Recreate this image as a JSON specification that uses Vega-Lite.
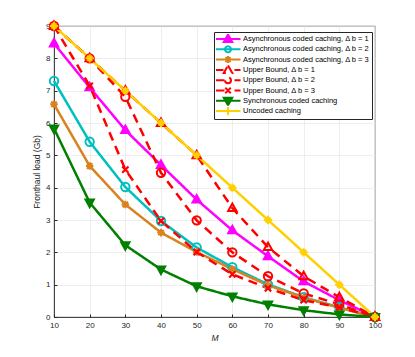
{
  "$schema": "https://vega.github.io/schema/vega-lite/v6.json",
  "width": 321,
  "height": 291,
  "autosize": {"type": "none"},
  "padding": {"left": 54, "top": 26, "right": 40, "bottom": 40},
  "background": "white",
  "config": {
    "font": "Liberation Sans",
    "view": {"stroke": "#262626", "strokeWidth": 0.8},
    "axis": {
      "labelFont": "Liberation Sans",
      "labelFontSize": 8,
      "labelColor": "#262626",
      "titleFont": "Liberation Sans",
      "titleFontSize": 8.5,
      "titleFontWeight": "normal",
      "titleColor": "#262626",
      "domainColor": "#262626",
      "domainWidth": 0.8,
      "tickColor": "#262626",
      "tickSize": -3,
      "gridColor": "#e6e6e6",
      "gridWidth": 0.7
    },
    "legend": {
      "orient": "none", "legendX": 160, "legendY": 6,
      "strokeColor": "#262626", "fillColor": "white", "padding": 2,
      "labelFont": "Liberation Sans", "labelFontSize": 7.5, "labelColor": "#000000",
      "symbolSize": 100, "symbolStrokeWidth": 2, "symbolOffset": 6, "labelOffset": 9,
      "rowPadding": 0.3, "clipHeight": 10, "labelLimit": 300, "symbolOpacity": 1
    }
  },
  "data": {
    "values": [
      {"M": 10, "load": 8.46, "series": "Asynchronous coded caching, Δ b = 1"},
      {"M": 20, "load": 7.1, "series": "Asynchronous coded caching, Δ b = 1"},
      {"M": 30, "load": 5.78, "series": "Asynchronous coded caching, Δ b = 1"},
      {"M": 40, "load": 4.7, "series": "Asynchronous coded caching, Δ b = 1"},
      {"M": 50, "load": 3.63, "series": "Asynchronous coded caching, Δ b = 1"},
      {"M": 60, "load": 2.68, "series": "Asynchronous coded caching, Δ b = 1"},
      {"M": 70, "load": 1.88, "series": "Asynchronous coded caching, Δ b = 1"},
      {"M": 80, "load": 1.1, "series": "Asynchronous coded caching, Δ b = 1"},
      {"M": 90, "load": 0.52, "series": "Asynchronous coded caching, Δ b = 1"},
      {"M": 100, "load": 0, "series": "Asynchronous coded caching, Δ b = 1"},
      {"M": 10, "load": 7.3, "series": "Asynchronous coded caching, Δ b = 2"},
      {"M": 20, "load": 5.42, "series": "Asynchronous coded caching, Δ b = 2"},
      {"M": 30, "load": 4.02, "series": "Asynchronous coded caching, Δ b = 2"},
      {"M": 40, "load": 2.97, "series": "Asynchronous coded caching, Δ b = 2"},
      {"M": 50, "load": 2.15, "series": "Asynchronous coded caching, Δ b = 2"},
      {"M": 60, "load": 1.54, "series": "Asynchronous coded caching, Δ b = 2"},
      {"M": 70, "load": 1.01, "series": "Asynchronous coded caching, Δ b = 2"},
      {"M": 80, "load": 0.61, "series": "Asynchronous coded caching, Δ b = 2"},
      {"M": 90, "load": 0.3, "series": "Asynchronous coded caching, Δ b = 2"},
      {"M": 100, "load": 0, "series": "Asynchronous coded caching, Δ b = 2"},
      {"M": 10, "load": 6.58, "series": "Asynchronous coded caching, Δ b = 3"},
      {"M": 20, "load": 4.67, "series": "Asynchronous coded caching, Δ b = 3"},
      {"M": 30, "load": 3.48, "series": "Asynchronous coded caching, Δ b = 3"},
      {"M": 40, "load": 2.61, "series": "Asynchronous coded caching, Δ b = 3"},
      {"M": 50, "load": 2.01, "series": "Asynchronous coded caching, Δ b = 3"},
      {"M": 60, "load": 1.48, "series": "Asynchronous coded caching, Δ b = 3"},
      {"M": 70, "load": 0.98, "series": "Asynchronous coded caching, Δ b = 3"},
      {"M": 80, "load": 0.6, "series": "Asynchronous coded caching, Δ b = 3"},
      {"M": 90, "load": 0.28, "series": "Asynchronous coded caching, Δ b = 3"},
      {"M": 100, "load": 0, "series": "Asynchronous coded caching, Δ b = 3"},
      {"M": 10, "load": 9, "series": "Upper Bound, Δ b = 1"},
      {"M": 20, "load": 8, "series": "Upper Bound, Δ b = 1"},
      {"M": 30, "load": 7, "series": "Upper Bound, Δ b = 1"},
      {"M": 40, "load": 6, "series": "Upper Bound, Δ b = 1"},
      {"M": 50, "load": 5, "series": "Upper Bound, Δ b = 1"},
      {"M": 60, "load": 3.37, "series": "Upper Bound, Δ b = 1"},
      {"M": 70, "load": 2.16, "series": "Upper Bound, Δ b = 1"},
      {"M": 80, "load": 1.26, "series": "Upper Bound, Δ b = 1"},
      {"M": 90, "load": 0.61, "series": "Upper Bound, Δ b = 1"},
      {"M": 100, "load": 0, "series": "Upper Bound, Δ b = 1"},
      {"M": 10, "load": 9, "series": "Upper Bound, Δ b = 2"},
      {"M": 20, "load": 8, "series": "Upper Bound, Δ b = 2"},
      {"M": 30, "load": 6.81, "series": "Upper Bound, Δ b = 2"},
      {"M": 40, "load": 4.46, "series": "Upper Bound, Δ b = 2"},
      {"M": 50, "load": 2.99, "series": "Upper Bound, Δ b = 2"},
      {"M": 60, "load": 2.0, "series": "Upper Bound, Δ b = 2"},
      {"M": 70, "load": 1.26, "series": "Upper Bound, Δ b = 2"},
      {"M": 80, "load": 0.73, "series": "Upper Bound, Δ b = 2"},
      {"M": 90, "load": 0.39, "series": "Upper Bound, Δ b = 2"},
      {"M": 100, "load": 0, "series": "Upper Bound, Δ b = 2"},
      {"M": 10, "load": 9, "series": "Upper Bound, Δ b = 3"},
      {"M": 20, "load": 7.15, "series": "Upper Bound, Δ b = 3"},
      {"M": 30, "load": 4.56, "series": "Upper Bound, Δ b = 3"},
      {"M": 40, "load": 2.97, "series": "Upper Bound, Δ b = 3"},
      {"M": 50, "load": 2.01, "series": "Upper Bound, Δ b = 3"},
      {"M": 60, "load": 1.32, "series": "Upper Bound, Δ b = 3"},
      {"M": 70, "load": 0.89, "series": "Upper Bound, Δ b = 3"},
      {"M": 80, "load": 0.52, "series": "Upper Bound, Δ b = 3"},
      {"M": 90, "load": 0.3, "series": "Upper Bound, Δ b = 3"},
      {"M": 100, "load": 0, "series": "Upper Bound, Δ b = 3"},
      {"M": 10, "load": 5.83, "series": "Synchronous coded caching"},
      {"M": 20, "load": 3.54, "series": "Synchronous coded caching"},
      {"M": 30, "load": 2.22, "series": "Synchronous coded caching"},
      {"M": 40, "load": 1.47, "series": "Synchronous coded caching"},
      {"M": 50, "load": 0.95, "series": "Synchronous coded caching"},
      {"M": 60, "load": 0.64, "series": "Synchronous coded caching"},
      {"M": 70, "load": 0.39, "series": "Synchronous coded caching"},
      {"M": 80, "load": 0.21, "series": "Synchronous coded caching"},
      {"M": 90, "load": 0.08, "series": "Synchronous coded caching"},
      {"M": 100, "load": 0, "series": "Synchronous coded caching"},
      {"M": 10, "load": 9, "series": "Uncoded caching"},
      {"M": 20, "load": 8, "series": "Uncoded caching"},
      {"M": 30, "load": 7, "series": "Uncoded caching"},
      {"M": 40, "load": 6, "series": "Uncoded caching"},
      {"M": 50, "load": 5, "series": "Uncoded caching"},
      {"M": 60, "load": 4, "series": "Uncoded caching"},
      {"M": 70, "load": 3, "series": "Uncoded caching"},
      {"M": 80, "load": 2, "series": "Uncoded caching"},
      {"M": 90, "load": 1, "series": "Uncoded caching"},
      {"M": 100, "load": 0, "series": "Uncoded caching"}
    ]
  },
  "encoding": {
    "x": {
      "field": "M", "type": "quantitative",
      "scale": {"domain": [10, 100], "nice": false, "zero": false},
      "axis": {"values": [10, 20, 30, 40, 50, 60, 70, 80, 90, 100], "title": "M", "titleFontStyle": "italic", "labelPadding": 7, "titlePadding": 4, "labelFlush": false}
    },
    "y": {
      "field": "load", "type": "quantitative",
      "scale": {"domain": [0, 9], "nice": false},
      "axis": {"values": [0, 1, 2, 3, 4, 5, 6, 7, 8, 9], "title": "Fronthaul load (Gb)", "labelPadding": 7, "titlePadding": 4}
    }
  },
  "layer": [
    {
      "mark": {"type": "point", "filled": false, "strokeWidth": 2, "size": 100, "opacity": 0},
      "encoding": {
        "stroke": {
          "field": "series", "type": "nominal",
          "scale": {
            "domain": ["Asynchronous coded caching, Δ b = 1", "Asynchronous coded caching, Δ b = 2", "Asynchronous coded caching, Δ b = 3", "Upper Bound, Δ b = 1", "Upper Bound, Δ b = 2", "Upper Bound, Δ b = 3", "Synchronous coded caching", "Uncoded caching"],
            "range": ["#ff00ff", "#00bfbf", "#d9821e", "#ff0000", "#ff0000", "#ff0000", "#008000", "#ffd000"]
          },
          "legend": {"title": null}
        },
        "fill": {
          "field": "series", "type": "nominal",
          "scale": {
            "domain": ["Asynchronous coded caching, Δ b = 1", "Asynchronous coded caching, Δ b = 2", "Asynchronous coded caching, Δ b = 3", "Upper Bound, Δ b = 1", "Upper Bound, Δ b = 2", "Upper Bound, Δ b = 3", "Synchronous coded caching", "Uncoded caching"],
            "range": ["#ff00ff", "transparent", "transparent", "transparent", "transparent", "transparent", "#008000", "transparent"]
          },
          "legend": {"title": null}
        },
        "shape": {
          "field": "series", "type": "nominal",
          "scale": {
            "domain": ["Asynchronous coded caching, Δ b = 1", "Asynchronous coded caching, Δ b = 2", "Asynchronous coded caching, Δ b = 3", "Upper Bound, Δ b = 1", "Upper Bound, Δ b = 2", "Upper Bound, Δ b = 3", "Synchronous coded caching", "Uncoded caching"],
            "range": [
              "M-2.5,0H2.5M0,-0.9L0.85,0.6L-0.85,0.6Z",
              "M-2.5,0H2.5M0.6,0A0.6,0.6 0 0,1 0,0.6A0.6,0.6 0 0,1 -0.6,0A0.6,0.6 0 0,1 0,-0.6A0.6,0.6 0 0,1 0.6,0Z",
              "M-2.5,0H2.5M0,-0.7V0.7M-0.5,-0.5L0.5,0.5M-0.5,0.5L0.5,-0.5",
              "M-2.5,0H-0.9M1.3,0H2.5M0,-0.9L0.85,0.6L-0.85,0.6Z",
              "M-2.5,0H-0.65M1.3,0H2.5M0.6,0A0.6,0.6 0 0,1 0,0.6A0.6,0.6 0 0,1 -0.6,0A0.6,0.6 0 0,1 0,-0.6A0.6,0.6 0 0,1 0.6,0Z",
              "M-2.5,0H-0.65M1.3,0H2.5M-0.55,-0.55L0.55,0.55M-0.55,0.55L0.55,-0.55",
              "M-2.5,0H2.5M0,0.9L0.85,-0.6L-0.85,-0.6Z",
              "M-2.5,0H2.5M0,-0.8V0.8"
            ]
          },
          "legend": {"title": null}
        }
      }
    },
    {
      "mark": {"type": "line", "strokeWidth": 2.5},
      "encoding": {
        "color": {
          "field": "series", "type": "nominal", "legend": null,
          "scale": {
            "domain": ["Asynchronous coded caching, Δ b = 1", "Asynchronous coded caching, Δ b = 2", "Asynchronous coded caching, Δ b = 3", "Upper Bound, Δ b = 1", "Upper Bound, Δ b = 2", "Upper Bound, Δ b = 3", "Synchronous coded caching", "Uncoded caching"],
            "range": ["#ff00ff", "#00bfbf", "#d9821e", "#ff0000", "#ff0000", "#ff0000", "#008000", "#ffd000"]
          }
        },
        "strokeDash": {
          "field": "series", "type": "nominal", "legend": null,
          "scale": {
            "domain": ["Asynchronous coded caching, Δ b = 1", "Asynchronous coded caching, Δ b = 2", "Asynchronous coded caching, Δ b = 3", "Upper Bound, Δ b = 1", "Upper Bound, Δ b = 2", "Upper Bound, Δ b = 3", "Synchronous coded caching", "Uncoded caching"],
            "range": [[1, 0], [1, 0], [1, 0], [9, 6], [9, 6], [9, 6], [1, 0], [1, 0]]
          }
        }
      }
    },
    {
      "transform": [{"filter": "datum.series === 'Asynchronous coded caching, Δ b = 1'"}],
      "mark": {"type": "point", "strokeWidth": 2, "size": 70, "opacity": 1, "shape": "M0,-1.1L1,0.7L-1,0.7Z", "stroke": "#ff00ff", "fill": "#ff00ff"}
    },
    {
      "transform": [{"filter": "datum.series === 'Asynchronous coded caching, Δ b = 2'"}],
      "mark": {"type": "point", "strokeWidth": 2, "size": 70, "opacity": 1, "shape": "circle", "stroke": "#00bfbf", "fill": "transparent"}
    },
    {
      "transform": [{"filter": "datum.series === 'Asynchronous coded caching, Δ b = 3'"}],
      "mark": {"type": "point", "strokeWidth": 2, "size": 70, "opacity": 1, "shape": "M-0.9,0H0.9M0,-0.9V0.9M-0.65,-0.65L0.65,0.65M-0.65,0.65L0.65,-0.65", "stroke": "#d9821e", "fill": "transparent"}
    },
    {
      "transform": [{"filter": "datum.series === 'Upper Bound, Δ b = 1'"}],
      "mark": {"type": "point", "strokeWidth": 2, "size": 70, "opacity": 1, "shape": "M0,-1.1L1,0.7L-1,0.7Z", "stroke": "#ff0000", "fill": "transparent"}
    },
    {
      "transform": [{"filter": "datum.series === 'Upper Bound, Δ b = 2'"}],
      "mark": {"type": "point", "strokeWidth": 2, "size": 70, "opacity": 1, "shape": "circle", "stroke": "#ff0000", "fill": "transparent"}
    },
    {
      "transform": [{"filter": "datum.series === 'Upper Bound, Δ b = 3'"}],
      "mark": {"type": "point", "strokeWidth": 2.2, "size": 70, "opacity": 1, "shape": "M-0.75,-0.75L0.75,0.75M-0.75,0.75L0.75,-0.75", "stroke": "#ff0000", "fill": "transparent"}
    },
    {
      "transform": [{"filter": "datum.series === 'Synchronous coded caching'"}],
      "mark": {"type": "point", "strokeWidth": 2, "size": 70, "opacity": 1, "shape": "M0,1.1L1,-0.7L-1,-0.7Z", "stroke": "#008000", "fill": "#008000"}
    },
    {
      "transform": [{"filter": "datum.series === 'Uncoded caching'"}],
      "mark": {"type": "point", "strokeWidth": 2, "size": 70, "opacity": 1, "shape": "M-1,0H1M0,-1V1M-0.6,-0.6L0.6,0.6M-0.6,0.6L0.6,-0.6", "stroke": "#ffd000", "fill": "transparent"}
    }
  ]
}
